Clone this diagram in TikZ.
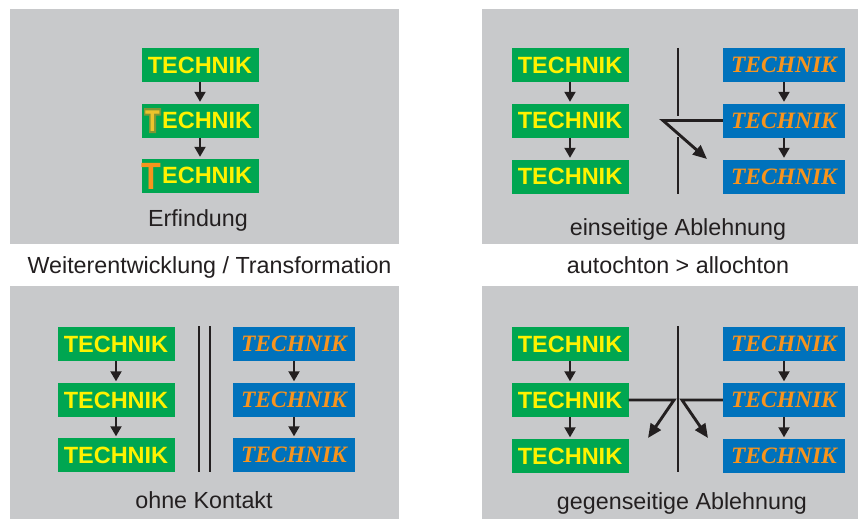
\documentclass[tikz,border=0pt]{standalone}
\usepackage{fontspec}
\usepackage{calc}
\usepackage{graphicx}
\usetikzlibrary{arrows.meta}
\newfontfamily\gsans{Liberation Sans}
\newfontfamily\tserif{Liberation Serif}
\definecolor{tpanel}{RGB}{200,201,203}
\definecolor{tgreen}{RGB}{0,166,81}
\definecolor{tyellow}{RGB}{255,242,0}
\definecolor{tblue}{RGB}{0,114,188}
\definecolor{torange}{RGB}{247,148,29}
\definecolor{tdark}{RGB}{35,31,32}
\definecolor{thalo}{RGB}{128,150,52}
\definecolor{tmid}{RGB}{236,196,44}
\newcommand{\myBigT}{\makebox[\widthof{T}]{\raisebox{-6pt}{\scalebox{0.85}[1]{\fontsize{38}{38}\selectfont\color{torange}T}}\hspace*{8pt}}}
\begin{document}
\begin{tikzpicture}[x=1pt,y=-1pt,
  gbox/.style={fill=tgreen, minimum width=117pt, minimum height=34pt, inner sep=0pt,
    text height=16.5pt, text depth=0pt, text=tyellow, font=\gsans\bfseries\fontsize{23.5}{23.5}\selectfont},
  bbox/.style={fill=tblue, minimum width=122pt, minimum height=34pt, inner sep=0pt,
    text height=15.5pt, text depth=0pt, text=torange, font=\tserif\bfseries\itshape\fontsize{23.5}{23.5}\selectfont},
  flow/.style={draw=tdark, line width=2pt, shorten >=1.5pt, -{Triangle[width=11pt,length=10pt]}},
  wall/.style={draw=tdark, line width=2.9pt},
  conn/.style={draw=tdark, line width=2.9pt, line join=miter, -{Triangle[width=12pt,length=14pt]}},
  captext/.style={anchor=base, inner sep=0pt, text=tdark, font=\gsans\fontsize{23.3}{23.3}\selectfont},
  panel/.style={fill=tpanel, draw=none}]
\useasboundingbox (0,0) rectangle (858,519);
\fill[white] (0,0) rectangle (858,519);
% panels
\path[panel] (10,9) rectangle (399,244);
\path[panel] (482,9) rectangle (858,244);
\path[panel] (10,286) rectangle (399,519);
\path[panel] (482,286) rectangle (858,519);

% ---- top left: Erfindung
\node[gbox] (a1) at (200,65) {TECHNIK};
\node[gbox] (a2) at (200,120.5) {\phantom{T}ECHNIK};
\node[gbox] (a3) at (200,175.5) {\myBigT ECHNIK};
\fill[thalo] (144,108) -- (161,108) -- (161,115.5) -- (156,115.5) -- (156,133) -- (149,133) -- (149,115.5) -- (144,115.5) -- cycle;
\node[anchor=base, inner sep=0pt, text=tmid, font=\gsans\bfseries\fontsize{30}{30}\selectfont] (a2t) at (152.5,131.5) {\scalebox{0.8}[1]{T}};
\draw[flow] (a1) -- (a2);
\draw[flow] (a2) -- (a3);
\node[captext] (capa) at (198,226) {Erfindung};
\node[captext] (capab) at (209.5,273) {Weiterentwicklung / Transformation};

% ---- top right: einseitige Ablehnung
\node[gbox] (g1) at (570,65) {TECHNIK};
\node[gbox] (g2) at (570,120.5) {TECHNIK};
\node[gbox] (g3) at (570,176.5) {TECHNIK};
\node[bbox] (b1) at (784,65) {TECHNIK};
\node[bbox] (b2) at (784,120.5) {TECHNIK};
\node[bbox] (b3) at (784,176.5) {TECHNIK};
\draw[flow] (g1) -- (g2);
\draw[flow] (g2) -- (g3);
\draw[flow] (b1) -- (b2);
\draw[flow] (b2) -- (b3);
\coordinate (w1a) at (678,48);
\coordinate (w1b) at (678,116);
\coordinate (w1c) at (678,137);
\coordinate (w1d) at (678,194);
\draw[wall] (w1a) -- (w1b);
\draw[wall] (w1c) -- (w1d);
\coordinate (k1) at (663,120.5);
\coordinate (t1) at (707,159);
\draw[conn] (b2.west) -- (k1) -- (t1);
\node[captext] (capb) at (678,235) {einseitige Ablehnung};
\node[captext] (capbb) at (678,273) {autochton > allochton};

% ---- bottom left: ohne Kontakt
\node[gbox] (c1) at (116,344) {TECHNIK};
\node[gbox] (c2) at (116,400) {TECHNIK};
\node[gbox] (c3) at (116,455) {TECHNIK};
\node[bbox] (d1) at (294,344) {TECHNIK};
\node[bbox] (d2) at (294,400) {TECHNIK};
\node[bbox] (d3) at (294,455) {TECHNIK};
\draw[flow] (c1) -- (c2);
\draw[flow] (c2) -- (c3);
\draw[flow] (d1) -- (d2);
\draw[flow] (d2) -- (d3);
\coordinate (w2a) at (199,326);
\coordinate (w2b) at (199,472);
\coordinate (w2c) at (210,326);
\coordinate (w2d) at (210,472);
\draw[wall] (w2a) -- (w2b);
\draw[wall] (w2c) -- (w2d);
\node[captext] (capc) at (204,508) {ohne Kontakt};

% ---- bottom right: gegenseitige Ablehnung
\node[gbox] (e1) at (570,344) {TECHNIK};
\node[gbox] (e2) at (570,400) {TECHNIK};
\node[gbox] (e3) at (570,456) {TECHNIK};
\node[bbox] (f1) at (784,344) {TECHNIK};
\node[bbox] (f2) at (784,400) {TECHNIK};
\node[bbox] (f3) at (784,456) {TECHNIK};
\draw[flow] (e1) -- (e2);
\draw[flow] (e2) -- (e3);
\draw[flow] (f1) -- (f2);
\draw[flow] (f2) -- (f3);
\coordinate (w3a) at (678,326);
\coordinate (w3b) at (678,472);
\draw[wall] (w3a) -- (w3b);
\coordinate (k2) at (674,400);
\coordinate (t2) at (648,438);
\coordinate (k3) at (682,400);
\coordinate (t3) at (708,438);
\draw[conn] (e2.east) -- (k2) -- (t2);
\draw[conn] (f2.west) -- (k3) -- (t3);
\node[captext] (capd) at (682,509) {gegenseitige Ablehnung};
\end{tikzpicture}
\end{document}
